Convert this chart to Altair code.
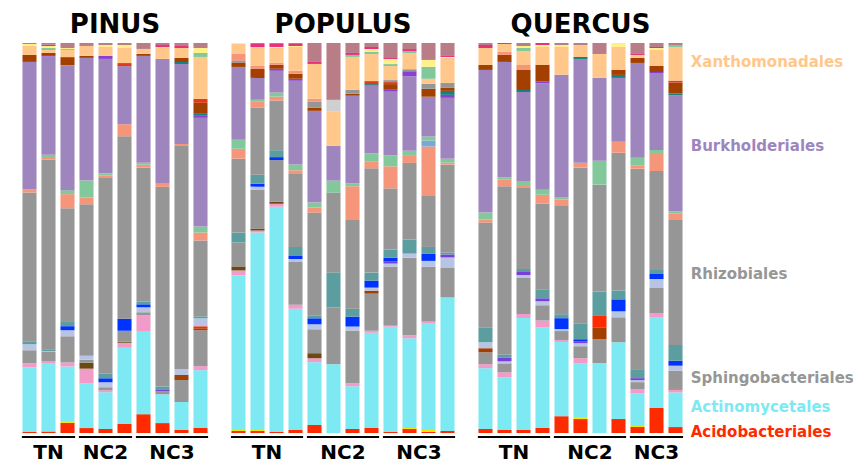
import altair as alt
import pandas as pd

# ---- taxa (bottom -> top stacking order) and colours ----
TAXON_KEYS = ["A", "Y", "C", "K", "DB", "S", "LB", "LR", "M", "P", "B", "T", "R",
              "SA", "UB", "G", "BU", "P2", "UT", "BR", "HR", "UG", "ST", "X",
              "G2", "LY", "HP", "LG", "MA"]
TAXON_COLORS = ["#FF2B00", "#F2E600", "#7DE9F2", "#F29AC8", "#6B4A12", "#969696",
                "#A34000", "#FF2B00", "#B8C4E4", "#7B3FD9", "#0033FF", "#5C9EA0",
                "#969696", "#F5967A", "#7BA7D8", "#82C89A", "#9F85BD", "#8A3FD0",
                "#1A7F7F", "#A34000", "#E03A1A", "#969696", "#F5967A", "#FFC78A",
                "#82C89A", "#FFF08A", "#E8317A", "#CFCFCF", "#B97D88"]

PINUS_BARS = [
    {"A": 1, "C": 65, "K": 4, "S": 13, "M": 6, "T": 3, "R": 149, "SA": 3, "BU": 128, "P2": 1, "BR": 6, "X": 9, "LY": 2, "MA": 1},
    {"A": 1.5, "C": 69, "K": 2, "S": 9, "M": 1, "T": 2, "R": 191, "SA": 2.5, "G": 2.5, "BU": 99, "P2": 1.5, "BR": 2, "X": 3, "G2": 2, "LY": 2, "HP": 1.5, "MA": 1.5},
    {"A": 10, "Y": 1, "C": 55, "K": 4, "S": 26, "M": 6, "B": 4, "T": 5, "R": 112, "SA": 14, "G": 4, "BU": 124, "BR": 8, "X": 7, "G2": 1, "LY": 1, "MA": 5},
    {"A": 5, "C": 45, "K": 15, "DB": 6, "S": 3, "M": 4, "R": 153, "SA": 7, "G": 17, "BU": 124, "BR": 2, "X": 10, "MA": 3},
    {"A": 4, "C": 37, "K": 2, "S": 3, "M": 5, "B": 4, "T": 5, "R": 197, "SA": 2, "G": 2, "BU": 115, "P2": 3, "X": 9, "LY": 2, "MA": 2},
    {"A": 9, "C": 76, "K": 5, "DB": 1, "S": 11, "B": 12, "R": 182, "SA": 12, "BU": 58, "HR": 3, "X": 15, "LY": 3, "MA": 2},
    {"A": 19, "C": 84, "K": 16, "S": 3, "M": 5, "B": 3, "T": 3, "R": 135, "SA": 3, "G": 2, "BU": 108, "BR": 2, "X": 5, "MA": 6},
    {"A": 10, "C": 29, "S": 3, "P": 2, "T": 3, "R": 201, "SA": 4, "BU": 125, "X": 12, "HP": 2, "MA": 2},
    {"A": 3, "C": 28, "S": 22, "M": 6, "LB": 5, "R": 223, "SA": 2, "BU": 80, "UT": 2, "BR": 4, "X": 10, "HP": 2, "MA": 3},
    {"A": 5, "C": 58, "K": 4, "S": 36, "LB": 2, "LR": 2, "M": 8, "T": 2, "R": 76, "SA": 8, "G": 6, "BU": 109, "P2": 2, "UT": 2, "BR": 11, "HR": 4, "X": 42, "G2": 4, "LY": 5, "MA": 5},
]
POPULUS_BARS = [
    {"A": 2, "Y": 1, "C": 155, "K": 5, "DB": 4, "S": 24, "T": 10, "R": 74, "SA": 10, "G": 9, "BU": 73, "BR": 4, "UG": 2, "ST": 7, "X": 10, "LY": 1},
    {"A": 2, "Y": 1, "C": 198, "K": 2, "DB": 2, "S": 39, "M": 3, "B": 3, "T": 9, "R": 67, "SA": 6, "G": 2, "BU": 22, "BR": 9, "ST": 3, "X": 19, "HP": 3, "MA": 1},
    {"A": 1, "C": 227, "K": 3, "DB": 2, "S": 42, "B": 3, "T": 7, "R": 50, "SA": 4, "G": 4, "BU": 22, "P2": 2, "BR": 4, "ST": 2, "X": 15, "LY": 1, "HP": 3, "MA": 1},
    {"A": 3, "C": 122, "K": 4, "S": 43, "M": 3, "B": 3, "T": 9, "R": 74, "SA": 3, "G": 6, "BU": 84, "P2": 2, "BR": 5, "ST": 3, "X": 24, "LY": 1, "HP": 2, "MA": 1},
    {"A": 8, "C": 63, "K": 4, "DB": 5, "S": 24, "M": 5, "B": 6, "T": 3, "R": 103, "SA": 5, "G": 5, "BU": 92, "BR": 3, "UG": 6, "ST": 3, "X": 35, "HP": 2, "MA": 19},
    {"C": 69, "S": 57, "T": 35, "R": 80, "G": 12, "BU": 35, "X": 34, "LG": 12, "MA": 57},
    {"A": 4, "C": 43, "K": 3, "S": 53, "M": 4, "B": 10, "T": 8, "R": 89, "SA": 34, "G": 3, "BU": 88, "BR": 2, "UG": 4, "X": 33, "G2": 2, "HP": 2, "MA": 10},
    {"A": 5, "C": 95, "K": 2, "S": 37, "M": 3, "LB": 3, "B": 7, "T": 8, "R": 104, "SA": 7, "G": 8, "BU": 68, "UT": 1, "HR": 3, "X": 27, "G2": 2, "LY": 3, "HP": 2, "MA": 4},
    {"A": 1, "C": 105, "K": 1, "S": 59, "M": 3, "P": 2, "B": 4, "T": 8, "R": 61, "SA": 22, "G": 11, "BU": 64, "P2": 2, "BR": 5, "HR": 2, "UG": 2, "X": 14, "G2": 2, "LY": 5, "HP": 1, "MA": 15},
    {"A": 4, "Y": 1, "C": 89, "K": 3, "S": 77, "M": 4, "T": 14, "R": 76, "SA": 7, "G": 5, "BU": 74, "P2": 5, "UG": 2, "X": 16, "G2": 2, "HP": 2, "MA": 6},
    {"A": 1, "Y": 2, "C": 107, "K": 2, "S": 55, "M": 6, "B": 7, "T": 7, "R": 52, "SA": 49, "UB": 6, "G": 4, "BU": 40, "BR": 8, "UG": 5, "X": 5, "G2": 12, "LY": 7, "MA": 17},
    {"A": 2, "C": 134, "S": 30, "M": 10, "P": 3, "T": 2, "R": 88, "SA": 2, "G": 4, "BU": 61, "P2": 3, "UT": 4, "BR": 3, "UG": 5, "X": 25, "LY": 1, "HP": 1, "MA": 13},
]
QUERCUS_BARS = [
    {"A": 4, "C": 61, "K": 4, "S": 12, "LB": 4, "M": 6, "T": 15, "R": 105, "SA": 3, "G": 7, "BU": 143, "BR": 5, "X": 17, "HP": 3, "MA": 2},
    {"A": 3, "C": 53, "K": 5, "S": 9, "M": 2, "P": 4, "T": 3, "R": 169, "SA": 7, "G": 2, "BU": 116, "BR": 7, "ST": 3, "X": 8, "HP": 1},
    {"A": 3, "C": 112, "K": 4, "S": 36, "M": 3, "P": 3, "T": 3, "R": 81, "SA": 3, "G": 4, "BU": 89, "UT": 2, "BR": 20, "ST": 5, "X": 14, "G2": 3, "LY": 2, "MA": 3},
    {"A": 5, "C": 100, "K": 7, "S": 15, "M": 4, "P": 3, "T": 9, "R": 85, "SA": 9, "G": 5, "BU": 106, "P2": 2, "BR": 16, "X": 18, "LY": 2, "HP": 2},
    {"A": 17, "C": 75, "K": 2, "S": 9, "M": 2, "B": 11, "T": 4, "R": 110, "SA": 6, "G": 2, "BU": 124, "X": 28, "LY": 2, "MA": 2},
    {"A": 14, "Y": 2, "C": 54, "K": 5, "S": 12, "M": 3, "P": 2, "B": 2, "T": 16, "R": 156, "SA": 5, "BU": 104, "UT": 2, "X": 12, "MA": 2},
    {"C": 70, "S": 24, "LB": 12, "LR": 12, "T": 24, "R": 107, "G": 24, "BU": 83, "X": 24, "MA": 11},
    {"A": 14, "C": 77, "S": 25, "M": 6, "B": 12, "T": 9, "R": 138, "SA": 11, "BU": 64, "UT": 3, "BR": 5, "X": 23, "LY": 4},
    {"A": 6, "Y": 1, "C": 33, "K": 4, "S": 7, "M": 2, "P": 2, "T": 9, "R": 201, "SA": 3, "G": 8, "BU": 95, "BR": 5, "X": 3, "HP": 1, "MA": 11},
    {"A": 25, "C": 91, "K": 4, "S": 25, "M": 9, "B": 5, "T": 4, "R": 99, "SA": 18, "G": 3, "BU": 77, "P2": 1, "BR": 6, "X": 16, "LY": 2, "HP": 1, "MA": 4},
    {"A": 6, "C": 35, "K": 3, "DB": 1, "S": 18, "M": 5, "B": 5, "T": 16, "R": 127, "SA": 6, "G": 2, "BU": 117, "UT": 2, "BR": 11, "HR": 2, "X": 34, "G2": 2, "MA": 2},
]

GROUP_NAMES = ["TN", "NC2", "NC3"]
PINUS_GROUP_SIZES = [3, 3, 4]
POPULUS_GROUP_SIZES = [4, 4, 4]
QUERCUS_GROUP_SIZES = [4, 4, 3]

LABEL_NAMES = ["Xanthomonadales", "Burkholderiales", "Rhizobiales",
               "Sphingobacteriales", "Actinomycetales", "Acidobacteriales"]
LABEL_COLORS = ["#FFC78A", "#9F85BD", "#969696", "#969696", "#7DE9F2", "#FF2B00"]
LABEL_ANCHORS = [0.951, 0.735, 0.408, 0.140, 0.066, 0.003]

FONT = "DejaVu Sans"
PITCH = 19
H = 390
HALF = 0.37
TITLE_GAP = 10     # px between title baseline and plot top
RULE_GAP = 4       # px below plot bottom
LABEL_GAP = 26     # px from plot bottom to group-label baseline


def make_panel(title, bars, sizes, with_labels=False):
    n = len(bars)
    rows = []
    for i, b in enumerate(bars):
        for k, key in enumerate(TAXON_KEYS):
            if key in b:
                rows.append({"bar": i, "taxon": key, "order": k,
                             "value": b[key], "col": TAXON_COLORS[k]})
    df = pd.DataFrame(rows)

    grows = []
    start = 0
    for name, s in zip(GROUP_NAMES, sizes):
        grows.append({"label": name, "start": start, "end": start + s - 1,
                      "mid": start + (s - 1) / 2})
        start += s
    gdf = pd.DataFrame(grows)

    xs = alt.Scale(domain=[-0.5, n - 0.5], nice=False, zero=False)
    ys = alt.Scale(domain=[0, 1], nice=False, zero=False)

    barlayer = alt.Chart(df).transform_stack(
        stack="value", groupby=["bar"], as_=["y0", "y1"],
        sort=[alt.SortField("order", order="ascending")], offset="normalize"
    ).transform_calculate(
        xa=f"datum.bar - {HALF}", xb=f"datum.bar + {HALF}"
    ).mark_bar().encode(
        x=alt.X("xa:Q", scale=xs, axis=None),
        x2="xb:Q",
        y=alt.Y("y0:Q", scale=ys, axis=None),
        y2="y1:Q",
        color=alt.Color("col:N", scale=None),
    )

    rules = alt.Chart(gdf).transform_calculate(
        xa="datum.start - 0.4", xb="datum.end + 0.4", yr=f"{-RULE_GAP / H}"
    ).mark_rule(color="black", strokeWidth=2).encode(
        x=alt.X("xa:Q", scale=xs, axis=None),
        x2="xb:Q",
        y=alt.Y("yr:Q", scale=ys, axis=None),
    )

    glabels = alt.Chart(gdf).transform_calculate(
        yt=f"{-LABEL_GAP / H}"
    ).mark_text(
        font=FONT, fontSize=20, fontWeight="bold", color="black",
        baseline="alphabetic", align="center"
    ).encode(
        x=alt.X("mid:Q", scale=xs, axis=None),
        y=alt.Y("yt:Q", scale=ys, axis=None),
        text="label:N",
    )

    tdf = pd.DataFrame({"t": [title], "mid": [(n - 1) / 2]})
    tlayer = alt.Chart(tdf).transform_calculate(
        yt=f"{1 + TITLE_GAP / H}"
    ).mark_text(
        font=FONT, fontSize=26, fontWeight="bold", color="black",
        baseline="alphabetic", align="center"
    ).encode(
        x=alt.X("mid:Q", scale=xs, axis=None),
        y=alt.Y("yt:Q", scale=ys, axis=None),
        text="t:N",
    )

    layers = [barlayer, rules, glabels, tlayer]
    if with_labels:
        ldf = pd.DataFrame({"name": LABEL_NAMES, "col": LABEL_COLORS,
                            "ly": LABEL_ANCHORS})
        lab = alt.Chart(ldf).transform_calculate(
            lx=f"{n - 0.5 + 0.3}"
        ).mark_text(
            font=FONT, fontSize=15, fontWeight="bold", align="left",
            baseline="middle"
        ).encode(
            x=alt.X("lx:Q", scale=xs, axis=None),
            y=alt.Y("ly:Q", scale=ys, axis=None),
            text="name:N",
            color=alt.Color("col:N", scale=None),
        )
        layers.append(lab)

    return alt.layer(*layers).properties(width=n * PITCH, height=H)


chart = alt.hconcat(
    make_panel("PINUS", PINUS_BARS, PINUS_GROUP_SIZES),
    make_panel("POPULUS", POPULUS_BARS, POPULUS_GROUP_SIZES),
    make_panel("QUERCUS", QUERCUS_BARS, QUERCUS_GROUP_SIZES, with_labels=True),
    spacing=19,
).properties(
    padding={"left": 12, "top": 4, "right": 0, "bottom": 0},
    background="white",
).configure_view(stroke=None)

chart.save("out.html", embed_options={"renderer": "svg", "actions": False})
